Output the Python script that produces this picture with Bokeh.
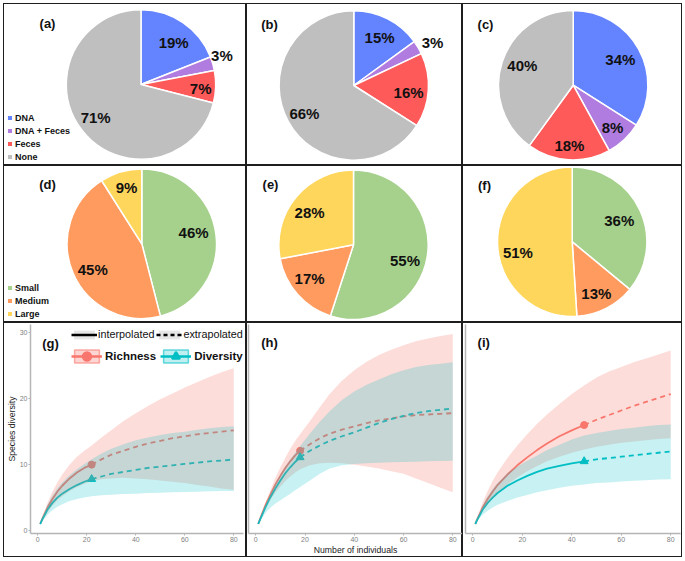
import numpy as np
from bokeh.plotting import figure
from bokeh.layouts import row, column
from bokeh.models import (Range1d, ColumnDataSource, Legend, LegendItem, Label,
                          FixedTicker, Spacer)
from bokeh.core.properties import value
from bokeh.embed import file_html
from bokeh.resources import INLINE

# ---------------- data ----------------
source_cats = ["DNA", "DNA + Feces", "Feces", "None"]
pct_a = [19, 3, 7, 71]
pct_b = [15, 3, 16, 66]
pct_c = [34, 8, 18, 40]

size_cats = ["Small", "Medium", "Large"]
pct_d = [46, 45, 9]
pct_e = [55, 17, 28]
pct_f = [36, 13, 51]

# (g) rarefaction / extrapolation
g_x_int = [1, 2, 4, 6, 8, 10, 13, 16, 19, 22]
g_rich_int = [1.0, 1.9, 3.5, 4.8, 5.9, 6.8, 7.9, 8.8, 9.5, 10.0]
g_div_int = [1.0, 1.8, 3.2, 4.2, 5.0, 5.6, 6.3, 6.9, 7.4, 7.8]
g_x_ext = [22, 26, 30, 35, 40, 45, 50, 55, 60, 65, 70, 75, 80]
g_rich_ext = [10.0, 10.8, 11.5, 12.1, 12.7, 13.2, 13.6, 14.0, 14.3, 14.6, 14.8, 15.0, 15.2]
g_div_ext = [7.8, 8.2, 8.6, 8.9, 9.2, 9.5, 9.7, 9.9, 10.1, 10.3, 10.5, 10.6, 10.8]
g_x_all = [1, 2, 4, 6, 8, 10, 13, 16, 19, 22, 26, 30, 35, 40, 45, 50, 55, 60, 65, 70, 75, 80]
g_rich_hi = [1.0, 2.2, 4.2, 5.9, 7.3, 8.5, 10.0, 11.2, 12.1, 12.9, 14.1, 15.2, 16.6, 17.8, 18.9, 19.9, 20.8, 21.7, 22.5, 23.3, 24.0, 24.6]
g_rich_lo = [1.0, 1.6, 2.8, 3.8, 4.6, 5.2, 6.0, 6.6, 7.1, 7.5, 7.8, 7.9, 8.0, 7.9, 7.8, 7.6, 7.4, 7.2, 6.9, 6.7, 6.4, 6.2]
g_div_hi = [1.0, 2.0, 3.9, 5.3, 6.4, 7.3, 8.4, 9.3, 10.1, 10.8, 11.7, 12.4, 13.1, 13.7, 14.1, 14.5, 14.8, 15.0, 15.3, 15.5, 15.7, 15.8]
g_div_lo = [1.0, 1.5, 2.4, 3.1, 3.6, 4.0, 4.5, 4.8, 5.0, 5.2, 5.35, 5.45, 5.55, 5.6, 5.7, 5.75, 5.8, 5.85, 5.9, 5.95, 6.0, 6.0]

# (h)
h_x_int = [1, 2, 4, 6, 8, 10, 12, 14, 16, 18]
h_rich_int = [1.0, 2.0, 3.9, 5.5, 7.0, 8.3, 9.5, 10.5, 11.4, 12.1]
h_div_int = [1.0, 1.9, 3.6, 5.1, 6.4, 7.6, 8.7, 9.6, 10.4, 11.1]
h_x_ext = [18, 22, 26, 30, 35, 40, 45, 50, 55, 60, 65, 70, 75, 80]
h_rich_ext = [12.1, 13.1, 14.0, 14.7, 15.3, 15.8, 16.3, 16.7, 17.0, 17.3, 17.5, 17.6, 17.7, 17.8]
h_div_ext = [11.1, 12.1, 12.9, 13.6, 14.3, 14.9, 15.6, 16.3, 16.9, 17.4, 17.8, 18.1, 18.3, 18.5]
h_x_all = [1, 2, 4, 6, 8, 10, 12, 14, 16, 18, 22, 26, 30, 35, 40, 45, 50, 55, 60, 65, 70, 75, 80]
h_rich_hi = [1.0, 2.2, 4.3, 6.2, 8.0, 9.6, 11.0, 12.4, 13.6, 14.6, 16.6, 18.7, 20.7, 22.7, 24.3, 25.6, 26.6, 27.4, 28.1, 28.7, 29.1, 29.5, 29.8]
h_rich_lo = [1.0, 1.8, 3.4, 4.7, 5.8, 6.7, 7.5, 8.2, 8.8, 9.3, 9.9, 10.2, 10.3, 10.2, 10.0, 9.7, 9.4, 9.0, 8.6, 7.9, 7.2, 6.5, 5.8]
h_div_hi = [1.0, 2.1, 4.0, 5.7, 7.2, 8.5, 9.7, 10.8, 11.8, 12.8, 14.7, 16.5, 18.1, 19.8, 21.1, 22.1, 22.9, 23.7, 24.3, 24.8, 25.1, 25.3, 25.5]
h_div_lo = [1.0, 1.6, 2.7, 3.5, 4.1, 4.6, 5.1, 5.6, 6.1, 6.6, 7.6, 8.6, 9.4, 9.9, 10.1, 10.2, 10.3, 10.35, 10.4, 10.45, 10.5, 10.55, 10.6]

# (i)
i_x_int = [1, 2, 4, 6, 8, 10, 14, 18, 22, 26, 30, 35, 40, 45]
i_rich_int = [1.0, 1.9, 3.5, 4.8, 5.9, 6.9, 8.5, 9.9, 11.1, 12.2, 13.2, 14.3, 15.2, 16.0]
i_div_int = [1.0, 1.8, 3.2, 4.2, 5.0, 5.7, 6.8, 7.6, 8.3, 8.9, 9.4, 9.8, 10.2, 10.5]
i_x_ext = [45, 50, 55, 60, 65, 70, 75, 80]
i_rich_ext = [16.0, 16.8, 17.5, 18.2, 18.9, 19.5, 20.1, 20.7]
i_div_ext = [10.5, 10.8, 11.0, 11.2, 11.4, 11.6, 11.8, 12.0]
i_x_all = [1, 2, 4, 6, 8, 10, 14, 18, 22, 26, 30, 35, 40, 45, 50, 55, 60, 65, 70, 75, 80]
i_rich_hi = [1.0, 2.2, 4.3, 6.0, 7.5, 8.8, 11.0, 12.9, 14.6, 16.2, 17.6, 19.2, 20.7, 22.0, 23.2, 24.1, 24.8, 25.5, 26.1, 26.7, 27.3]
i_rich_lo = [1.0, 1.7, 3.0, 4.0, 4.9, 5.7, 7.0, 8.1, 9.0, 9.8, 10.5, 11.2, 11.8, 12.3, 12.7, 13.0, 13.3, 13.5, 13.7, 13.9, 14.0]
i_div_hi = [1.0, 2.0, 3.8, 5.2, 6.3, 7.2, 8.7, 9.7, 10.6, 11.4, 12.2, 13.0, 13.8, 14.4, 14.8, 15.1, 15.4, 15.6, 15.8, 16.0, 16.1]
i_div_lo = [1.0, 1.5, 2.4, 3.0, 3.5, 3.9, 4.5, 5.0, 5.4, 5.8, 6.1, 6.5, 6.8, 7.0, 7.2, 7.3, 7.45, 7.55, 7.65, 7.75, 7.8]

x_ticks = [0, 20, 40, 60, 80]
y_ticks = [0, 10, 20, 30]

# ---------------- style / layout ----------------
FONT = "Liberation Sans"
SOURCE_COLORS = ["#6483FF", "#B07CDF", "#FF5A5A", "#BFBFBF"]
SIZE_COLORS = ["#A5D18C", "#FF9B5E", "#FFD65C"]
RED = "#F8766D"
TEAL = "#00BFC4"
AXIS_GRAY = "#b5b5b5"
FRAME_STYLE = {"box-shadow": "inset 0 0 0 1px #1e1e1e"}

W1, W2, W3 = 243, 216, 220
H1, H2, H3 = 162, 157, 235
R = 74.7


def pie_panel(W, H, pcts, cats, colors, center, frac, nudge, tag, tag_pos, with_legend):
    p = figure(width=W, height=H, x_range=Range1d(0, W), y_range=Range1d(0, H),
               x_axis_type=None, y_axis_type=None, toolbar_location=None,
               output_backend="svg", min_border=0, outline_line_color=None,
               border_fill_alpha=0, background_fill_alpha=0, styles=FRAME_STYLE)
    share = np.asarray(pcts, float) / np.sum(pcts)
    cum = np.concatenate([[0.0], np.cumsum(share)])
    start = np.pi / 2 - 2 * np.pi * cum[:-1]
    end = np.pi / 2 - 2 * np.pi * cum[1:]
    cx, cy = center[0], H - center[1]
    n = len(pcts)
    src = ColumnDataSource(dict(cat=cats, start=start, end=end, color=colors,
                                x=[cx] * n, y=[cy] * n))
    kw = dict(legend_field="cat") if with_legend else {}
    p.wedge(x="x", y="y", radius=R, start_angle="start", end_angle="end",
            direction="clock", fill_color="color", line_color="white",
            line_width=1.5, source=src, **kw)
    mid = (start + end) / 2 + np.radians(nudge)
    fr = np.asarray(frac)
    lx = cx + fr * R * np.cos(mid)
    ly = cy + fr * R * np.sin(mid)
    p.text(x=lx, y=ly, text=[f"{v}%" for v in pcts], text_font=value(FONT),
           text_font_style="bold", text_font_size="15px", text_align="center",
           text_baseline="middle", text_color="#111111")
    p.add_layout(Label(x=tag_pos[0], y=H - tag_pos[1], text=tag, text_font=FONT,
                       text_font_style="bold", text_font_size="13px",
                       text_align="center", text_baseline="middle",
                       text_color="#111111"))
    if with_legend:
        lg = p.legend[0]
        lg.location = "bottom_left"
        lg.glyph_width = 7
        lg.glyph_height = 7
        lg.label_height = 11
        lg.label_width = 10
        lg.spacing = 2
        lg.padding = 0
        lg.margin = 3
        lg.label_standoff = 2
        lg.label_text_font = FONT
        lg.label_text_font_style = "bold"
        lg.label_text_font_size = "9px"
        lg.label_text_color = "#111111"
        lg.background_fill_alpha = 0
        lg.border_line_alpha = 0
    return p


# measured label placement (radial fraction of radius, angle nudge in degrees)
pa = pie_panel(W1, H1, pct_a, source_cats, SOURCE_COLORS, (137.5, 81.0),
               [0.71, 1.15, 0.80, 0.75], [-3.8, 3.5, -2.0, -1.8], "(a)", (44, 20), True)
pb = pie_panel(W2, H1, pct_b, source_cats, SOURCE_COLORS, (107.3, 82.0),
               [0.73, 1.20, 0.74, 0.76], [-1.2, -2.0, -3.7, 0.8], "(b)", (23, 21), False)
pc = pie_panel(W3, H1, pct_c, source_cats, SOURCE_COLORS, (110.7, 81.7),
               [0.72, 0.77, 0.81, 0.73], [0.0, 0.0, 0.0, -3.2], "(c)", (23, 21), False)
pd_ = pie_panel(W1, H2, pct_d, size_cats, SIZE_COLORS, (138.3, 78.3),
                [0.71, 0.74, 0.78], [5.1, 4.1, -1.0], "(d)", (44, 19), True)
pe = pie_panel(W2, H2, pct_e, size_cats, SIZE_COLORS, (107.0, 79.3),
               [0.72, 0.74, 0.73], [-7.8, -4.0, 3.3], "(e)", (24, 19), False)
pf = pie_panel(W3, H2, pct_f, size_cats, SIZE_COLORS, (109.7, 76.3),
               [0.69, 0.76, 0.74], [-1.0, -1.8, 9.2], "(f)", (22, 20), False)

# common ranges for the rarefaction panels (ggplot-like 5% expansion)
all_x = g_x_all + h_x_all + i_x_all
all_y = g_rich_hi + h_rich_hi + i_rich_hi + g_div_lo + h_div_lo + i_div_lo
xmin, xmax = min(all_x), max(all_x)
ymin, ymax = min(all_y), max(all_y)
X0, X1 = xmin - 0.05 * (xmax - xmin), xmax + 0.05 * (xmax - xmin)
Y0, Y1 = ymin - 0.05 * (ymax - ymin), ymax + 0.05 * (ymax - ymin)

MB_TOP, MB_BOTTOM = 2, 20


def rare_panel(W, mbl, mbr, xi, ri, di, xe, rex, dex, xa, rlo, rhi, dlo, dhi,
               tag, tag_xy, y_labels):
    p = figure(width=W, height=H3, x_range=Range1d(X0, X1), y_range=Range1d(Y0, Y1),
               toolbar_location=None, output_backend="svg",
               min_border_left=mbl, min_border_right=mbr,
               min_border_top=MB_TOP, min_border_bottom=MB_BOTTOM,
               outline_line_color=None, border_fill_alpha=0,
               background_fill_alpha=0, styles=FRAME_STYLE)
    p.grid.visible = False
    # curves (drawn under the confidence ribbons, as in the original)
    p.line(xi, ri, line_color=RED, line_width=1.8)
    p.line(xe, rex, line_color=RED, line_width=1.8, line_dash="5 4")
    p.line(xi, di, line_color=TEAL, line_width=1.8)
    p.line(xe, dex, line_color=TEAL, line_width=1.8, line_dash="5 4")
    p.scatter([xi[-1]], [ri[-1]], marker="circle", size=7, color=RED)
    p.scatter([xi[-1]], [di[-1]], marker="triangle", size=8, color=TEAL)
    p.varea(x=xa, y1=rlo, y2=rhi, fill_color=RED, fill_alpha=0.25)
    p.varea(x=xa, y1=dlo, y2=dhi, fill_color=TEAL, fill_alpha=0.22)

    xa_ = p.xaxis[0]
    xa_.ticker = FixedTicker(ticks=x_ticks)
    xa_.axis_line_color = AXIS_GRAY
    xa_.axis_line_width = 1.5
    xa_.major_tick_line_color = AXIS_GRAY
    xa_.major_tick_out = 2
    xa_.major_tick_in = 0
    xa_.minor_tick_line_color = None
    xa_.major_label_standoff = 1
    xa_.major_label_text_font = FONT
    xa_.major_label_text_font_size = "7px"
    xa_.major_label_text_color = "#7f7f7f"
    xa_.axis_label_standoff = 0
    xa_.axis_label_text_font = FONT
    xa_.axis_label_text_font_size = "8.7px"
    xa_.axis_label_text_font_style = "normal"
    xa_.axis_label_text_color = "#222222"

    ya_ = p.yaxis[0]
    ya_.axis_line_color = AXIS_GRAY
    ya_.axis_line_width = 1.5
    ya_.minor_tick_line_color = None
    ya_.axis_label_standoff = 0
    ya_.axis_label_text_font = FONT
    ya_.axis_label_text_font_size = "8.7px"
    ya_.axis_label_text_font_style = "normal"
    ya_.axis_label_text_color = "#222222"
    if y_labels:
        ya_.ticker = FixedTicker(ticks=y_ticks)
        ya_.major_tick_line_color = AXIS_GRAY
        ya_.major_tick_out = 2
        ya_.major_tick_in = 0
        ya_.major_label_standoff = 1
        ya_.major_label_text_font = FONT
        ya_.major_label_text_font_size = "7px"
        ya_.major_label_text_color = "#7f7f7f"
    else:
        ya_.ticker = FixedTicker(ticks=[])
        ya_.major_tick_out = 0
        ya_.major_tick_in = 0
        ya_.major_label_standoff = 0

    p.add_layout(Label(x=tag_xy[0], y=tag_xy[1], text=tag, text_font=FONT,
                       text_font_style="bold", text_font_size="13px",
                       text_align="center", text_baseline="middle",
                       text_color="#111111"))
    return p


pg = rare_panel(W1, 24, 3, g_x_int, g_rich_int, g_div_int, g_x_ext, g_rich_ext, g_div_ext,
                g_x_all, g_rich_lo, g_rich_hi, g_div_lo, g_div_hi, "(g)", (5.2, 28.4), True)
ph = rare_panel(W2, 2, 0, h_x_int, h_rich_int, h_div_int, h_x_ext, h_rich_ext, h_div_ext,
                h_x_all, h_rich_lo, h_rich_hi, h_div_lo, h_div_hi, "(h)", (5.6, 28.5), False)
pi = rare_panel(W3, 3, 2, i_x_int, i_rich_int, i_div_int, i_x_ext, i_rich_ext, i_div_ext,
                i_x_all, i_rich_lo, i_rich_hi, i_div_lo, i_div_hi, "(i)", (4.4, 28.5), False)

pg.yaxis[0].axis_label = "Species diversity"
ph.xaxis[0].axis_label = "Number of individuals"

# legend of panel (g)
nan = [float("nan")]
quad_nan = dict(left=nan, right=nan, top=nan, bottom=nan)
k_int_bg = pg.quad(**quad_nan, fill_color="#e6e6e6", line_color=None)
k_int = pg.line(x=nan, y=nan, line_color="black", line_width=2.5)
k_ext_bg = pg.quad(**quad_nan, fill_color="#e6e6e6", line_color=None)
k_ext = pg.line(x=nan, y=nan, line_color="black", line_width=2.5, line_dash="4 3")
k_r_box = pg.quad(**quad_nan, fill_color=RED, fill_alpha=0.3, line_color=RED,
                  line_alpha=0.6, line_width=1.5)
k_r_line = pg.line(x=nan, y=nan, line_color=RED, line_width=2.5)
k_r_pt = pg.scatter(x=nan, y=nan, marker="circle", size=10, fill_color=RED,
                    line_color=RED, line_width=4)
k_d_box = pg.quad(**quad_nan, fill_color=TEAL, fill_alpha=0.25, line_color=TEAL,
                  line_alpha=0.6, line_width=1.5)
k_d_line = pg.line(x=nan, y=nan, line_color=TEAL, line_width=2.5)
k_d_pt = pg.scatter(x=nan, y=nan, marker="triangle", size=10, fill_color=TEAL,
                    line_color=TEAL, line_width=3, line_join="round")

frame_h = H3 - MB_TOP - MB_BOTTOM
leg1 = Legend(items=[LegendItem(label="interpolated", renderers=[k_int_bg, k_int]),
                     LegendItem(label="extrapolated", renderers=[k_ext_bg, k_ext])],
              orientation="horizontal", location=(41, frame_h - 9 - 11),
              glyph_width=26, glyph_height=11, label_height=11, label_width=10,
              label_standoff=1, spacing=2, padding=0, margin=0,
              label_text_font=FONT, label_text_font_size="10.8px",
              label_text_color="#111111", background_fill_alpha=0,
              border_line_alpha=0)
leg2 = Legend(items=[LegendItem(label="Richness", renderers=[k_r_box, k_r_line, k_r_pt]),
                     LegendItem(label="Diversity", renderers=[k_d_box, k_d_line, k_d_pt])],
              orientation="horizontal", location=(41, frame_h - 28 - 16),
              glyph_width=31, glyph_height=16, label_height=16, label_width=10,
              label_standoff=3, spacing=4, padding=0, margin=0,
              label_text_font=FONT, label_text_font_size="11.5px",
              label_text_font_style="bold", label_text_color="#111111",
              background_fill_alpha=0, border_line_alpha=0)
pg.add_layout(leg1)
pg.add_layout(leg2)

grid = column(row(pa, pb, pc), row(pd_, pe, pf), row(pg, ph, pi),
              styles={"box-shadow": "inset 0 0 0 1px #1e1e1e"})
page = column(Spacer(width=3, height=3), row(Spacer(width=3, height=3), grid))

open("out.html", "w").write(file_html(page, INLINE))
